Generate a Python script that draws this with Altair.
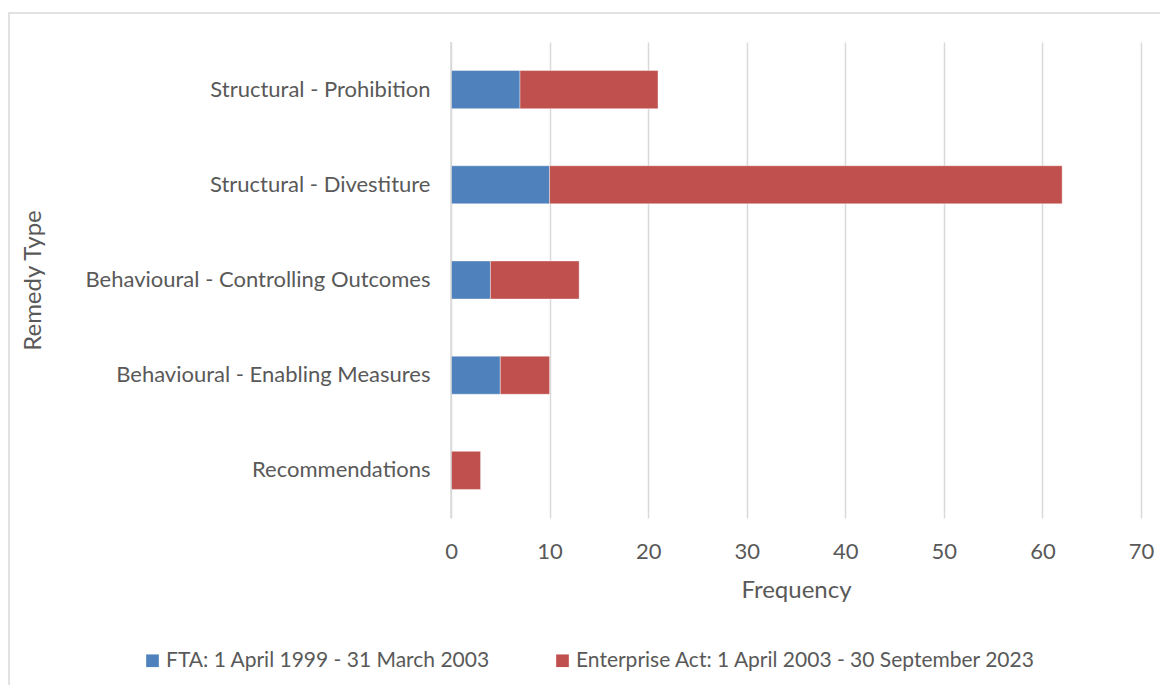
import altair as alt
import pandas as pd

categories = [
    "Structural - Prohibition",
    "Structural - Divestiture",
    "Behavioural - Controlling Outcomes",
    "Behavioural - Enabling Measures",
    "Recommendations",
]
series_names = [
    "FTA: 1 April 1999 - 31 March 2003",
    "Enterprise Act: 1 April 2003 - 30 September 2023",
]
fta_values = [7, 10, 4, 5, 0]
ea_values = [14, 52, 9, 5, 3]
colors = ["#4f81bd", "#c0504d"]
x_ticks = [0, 10, 20, 30, 40, 50, 60, 70]

rows = []
for c, f, e in zip(categories, fta_values, ea_values):
    rows.append({"category": c, "series": series_names[0], "value": f, "order": 0})
    rows.append({"category": c, "series": series_names[1], "value": e, "order": 1})
df = pd.DataFrame(rows)

FONT = "Lato"
TXT = "#595959"

bars = alt.Chart(df).mark_bar(stroke="white", strokeOpacity=0.4, strokeWidth=1).encode(
    x=alt.X(
        "sum(value):Q",
        scale=alt.Scale(domain=[0, 70], nice=False),
        axis=alt.Axis(
            values=x_ticks,
            title="Frequency",
            grid=True,
            gridColor="#d9d9d9",
            gridWidth=1.5,
            domain=False,
            ticks=False,
            labelFlush=False,
            labelPadding=23,
            labelFontSize=22,
            labelColor=TXT,
            labelFont=FONT,
            titleFont=FONT,
            titleFontSize=24,
            titleColor=TXT,
            titleFontWeight="normal",
            titleY=72,
            titleBaseline="middle",
        ),
    ),
    y=alt.Y(
        "category:N",
        sort=categories,
        scale=alt.Scale(paddingInner=0.6, paddingOuter=0.3),
        axis=alt.Axis(
            title="Remedy Type",
            domain=False,
            ticks=False,
            grid=False,
            labelPadding=21,
            labelFontSize=22,
            labelColor=TXT,
            labelFont=FONT,
            labelLimit=500,
            titleFont=FONT,
            titleFontSize=24,
            titleColor=TXT,
            titleFontWeight="normal",
            titleX=-418,
            titleY=238,
            titleAngle=270,
            titleAlign="center",
            titleBaseline="middle",
        ),
    ),
    color=alt.Color(
        "series:N",
        sort=series_names,
        scale=alt.Scale(domain=series_names, range=colors),
        legend=alt.Legend(
            title=None,
            orient="none",
            legendX=-309,
            legendY=608,
            direction="horizontal",
            columns=2,
            columnPadding=62,
            symbolType="square",
            symbolSize=160,
            symbolStrokeWidth=0,
            symbolOffset=0,
            labelOffset=3,
            labelFont=FONT,
            labelFontSize=21,
            labelColor=TXT,
            labelLimit=700,
        ),
    ),
    order=alt.Order("order:Q"),
)

zero_rule = alt.Chart(pd.DataFrame({"x": [0]})).mark_rule(color="#d9d9d9", strokeWidth=1.5).encode(
    x=alt.X("x:Q")
)

frame = alt.Chart(pd.DataFrame({"a": [0]})).mark_rect(
    fill=None, stroke="#d9d9d9", strokeWidth=1.5, clip=False
).encode(
    x=alt.value(-442), x2=alt.value(800), y=alt.value(-29), y2=alt.value(700)
)

chart = alt.layer(frame, bars, zero_rule).properties(
    width=690,
    height=476,
    padding={"left": 443, "top": 34, "right": 19, "bottom": 167},
    autosize=alt.AutoSizeParams(type="none"),
    background="white",
).configure_view(stroke=None)

chart.save("out.html", embed_options={"renderer": "svg", "actions": False})
